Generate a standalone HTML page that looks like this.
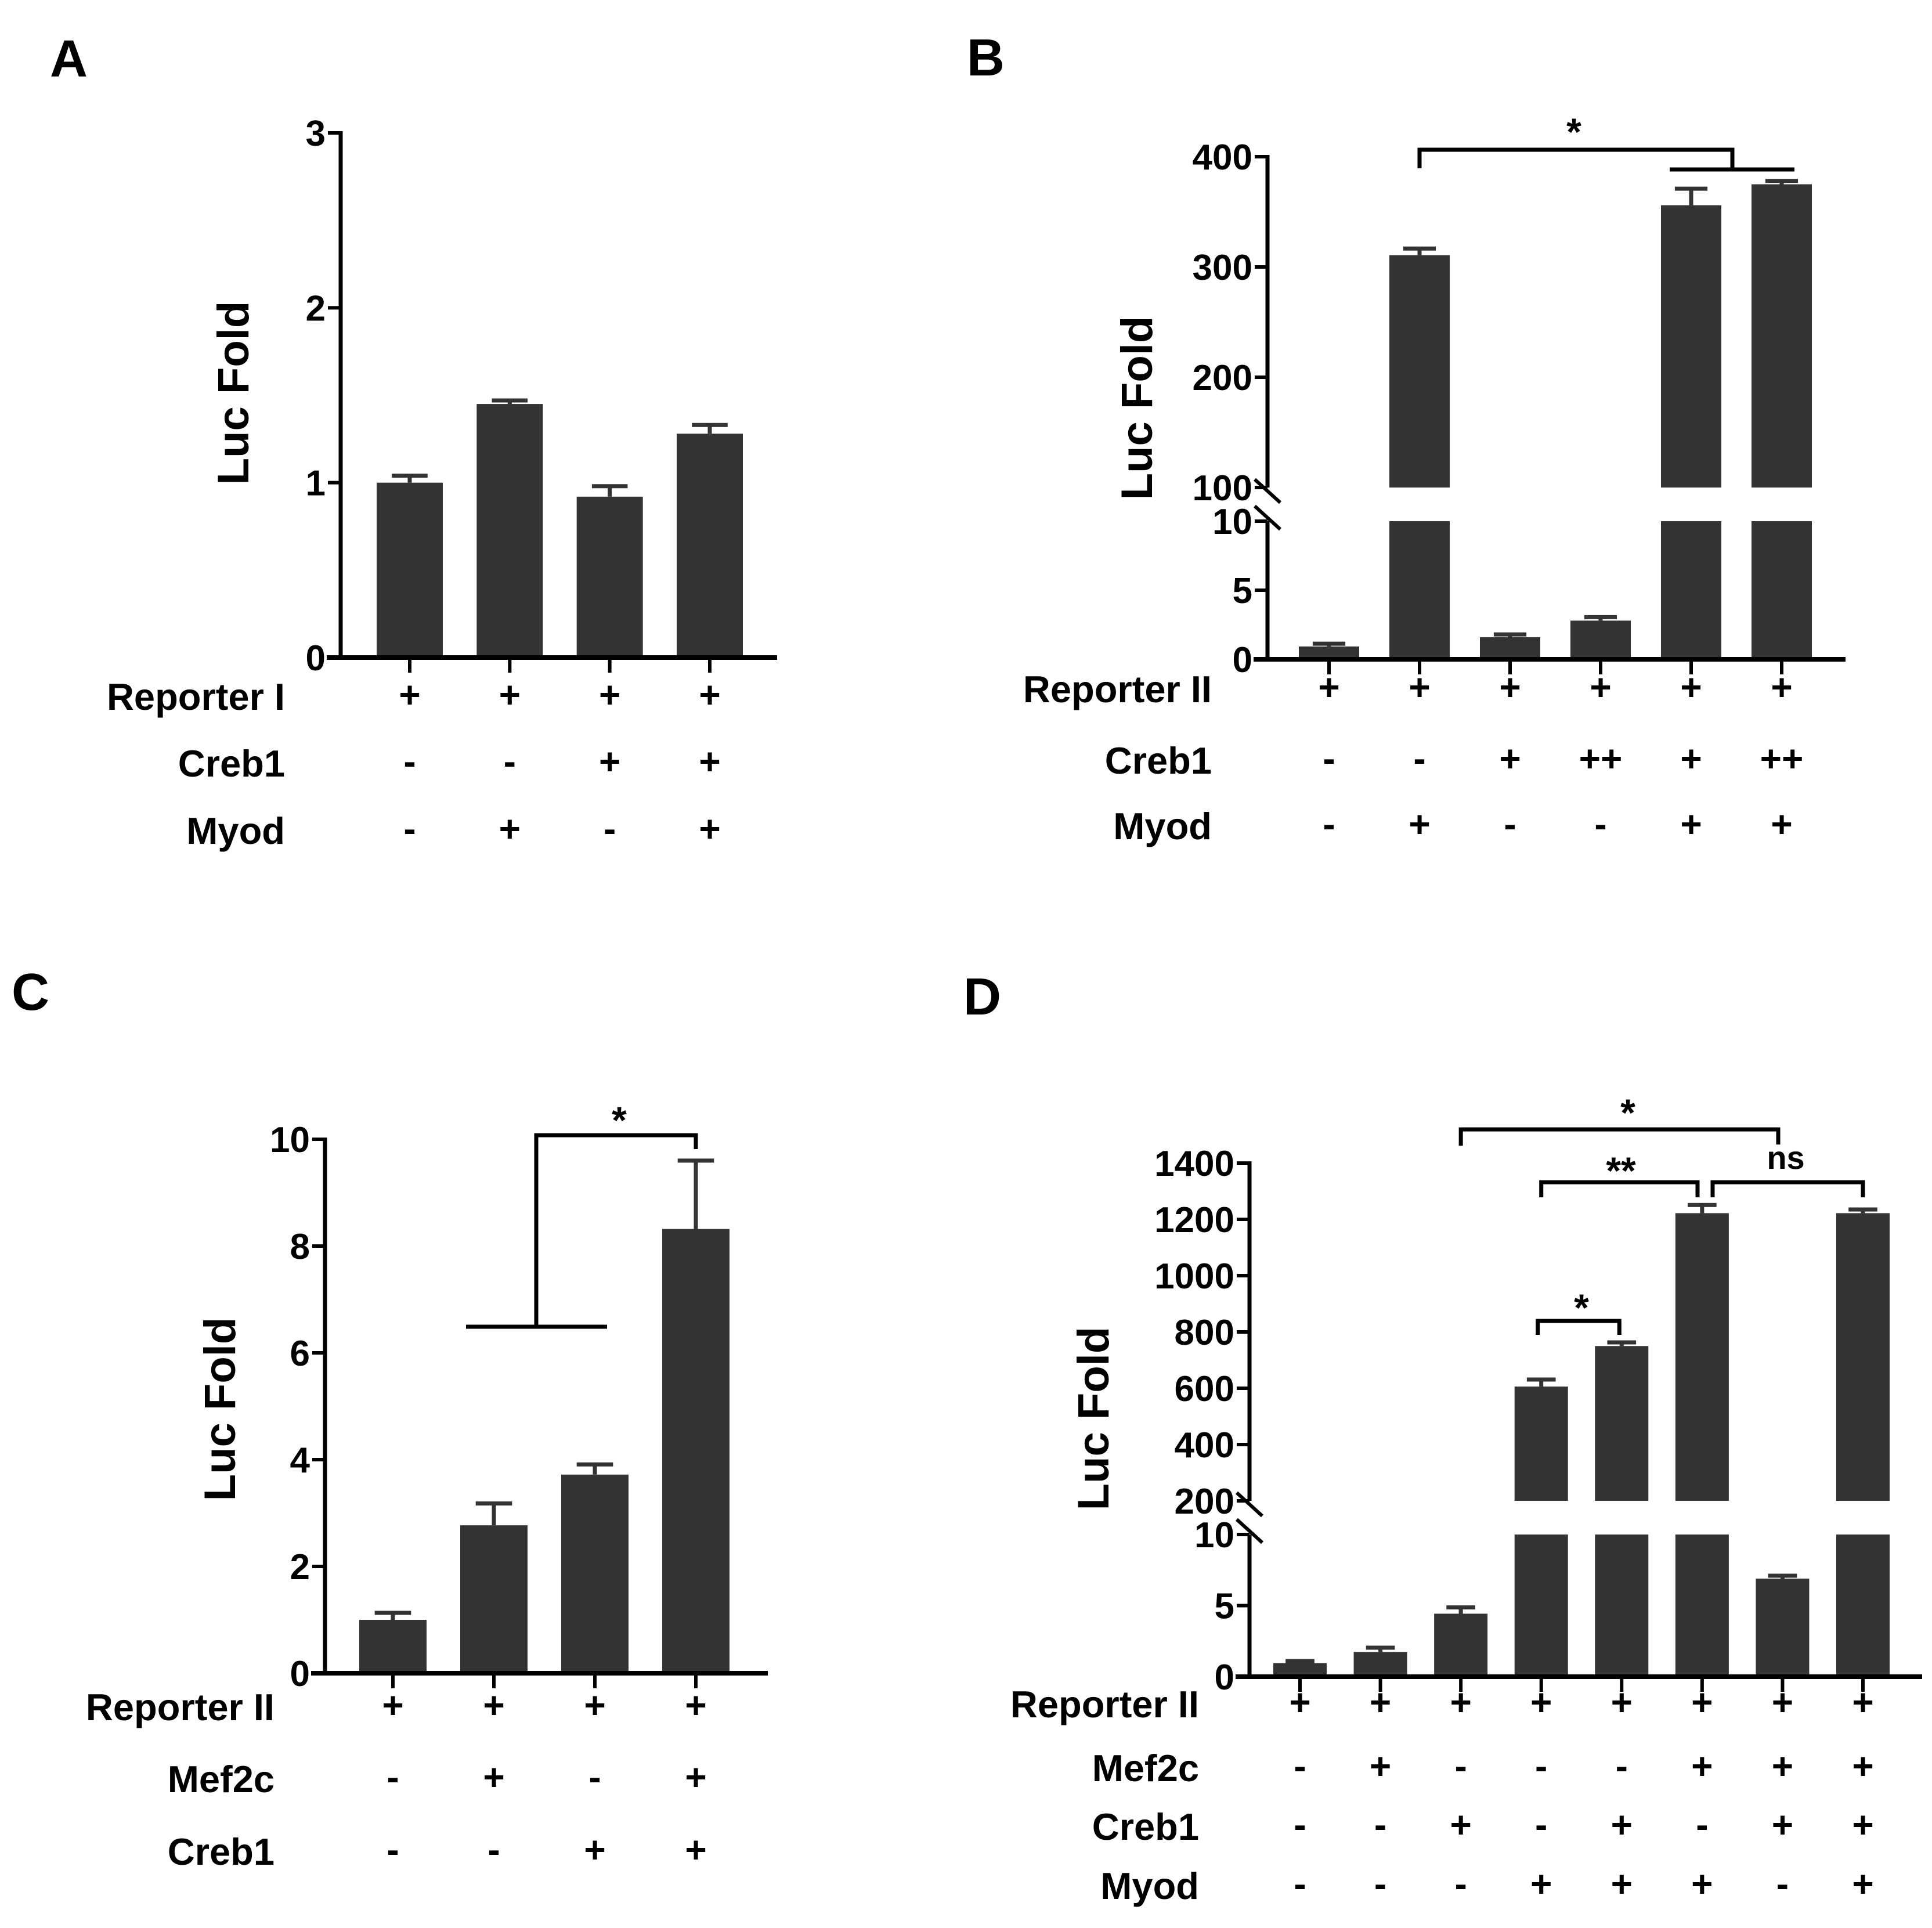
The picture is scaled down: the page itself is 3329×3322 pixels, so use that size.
<!DOCTYPE html>
<html><head><meta charset="utf-8"><style>
html,body{margin:0;padding:0;background:#fff;}
svg text{font-family:"Liberation Sans",Arial,sans-serif;font-weight:bold;fill:#000;}
</style></head><body>
<svg id="fig" xmlns="http://www.w3.org/2000/svg" width="3329" height="3317" viewBox="0 0 3329 3317">
<rect width="3329" height="3317" fill="#fff"/>
<text x="86" y="132" font-size="90">A</text>
<text x="1666" y="130" font-size="90">B</text>
<text x="20" y="1740" font-size="90">C</text>
<text x="1660" y="1748" font-size="90">D</text>
</svg>
<script>
// Panel A data
const aValues=[1.0,1.45,0.92,1.28];
const aErrors=[0.04,0.02,0.06,0.05];
const aTicks=[0,1,2,3];
const aRowNames=["Reporter I","Creb1","Myod"];
const aRows=[["+","+","+","+"],["-","-","+","+"],["-","+","-","+"]];
// Panel B data
const bValues=[0.93,310.7,1.6,2.8,356,375];
const bErrors=[0.2,6,0.2,0.25,15,3];
const bLowTicks=[0,5,10];
const bHighTicks=[100,200,300,400];
const bRowNames=["Reporter II","Creb1","Myod"];
const bRows=[["+","+","+","+","+","+"],["-","-","+","++","+","++"],["-","+","-","-","+","+"]];
// Panel C data
const cValues=[1.0,2.77,3.72,8.32];
const cErrors=[0.13,0.41,0.19,1.28];
const cTicks=[0,2,4,6,8,10];
const cRowNames=["Reporter II","Mef2c","Creb1"];
const cRows=[["+","+","+","+"],["-","+","-","+"],["-","-","+","+"]];
// Panel D data
const dValues=[0.96,1.74,4.43,606,750,1222,6.9,1222];
const dErrors=[0.14,0.3,0.44,25,13,29,0.2,13];
const dLowTicks=[0,5,10];
const dHighTicks=[200,400,600,800,1000,1200,1400];
const dRowNames=["Reporter II","Mef2c","Creb1","Myod"];
const dRows=[["+","+","+","+","+","+","+","+"],["-","+","-","-","-","+","+","+"],["-","-","+","-","+","-","+","+"],["-","-","-","+","+","+","-","+"]];

const svg=document.getElementById('fig');
const NS="http://www.w3.org/2000/svg";
function mk(tag,attrs,parent){const e=document.createElementNS(NS,tag);for(const k in attrs)e.setAttribute(k,attrs[k]);(parent||svg).appendChild(e);return e;}
function line(x1,y1,x2,y2,w,g,name){const l=mk('line',{x1,y1,x2,y2,stroke:'#000','stroke-width':w},g);


return l;}
function txt(s,x,y,size,anchor,g,name){const t=mk('text',{x,y,'font-size':size,'text-anchor':anchor},g);t.textContent=s;


return t;}

function panel(p){
  const g=mk('g',{});
  
  
  function yLow(v){return p.y0+(p.yLowTop-p.y0)*(v-p.lowMin)/(p.lowMax-p.lowMin);}
  function yHigh(v){return p.yHighBot+(p.yHighTop-p.yHighBot)*(v-p.highMin)/(p.highMax-p.highMin);}
  const broken=!!p.highTicks;
  function y(v){if(!broken||v<=p.lowMax)return yLow(v);return yHigh(Math.max(v,p.highMin));}
  const n=p.values.length;
  function xc(i){return p.xFirst+i*(p.xLast-p.xFirst)/(n-1);}
  for(let i=0;i<n;i++){
    const v=p.values[i],x=xc(i)-p.bw/2;
    if(broken&&v>p.lowMax){
      const r1=mk('rect',{x,y:yLow(p.lowMax),width:p.bw,height:p.y0-yLow(p.lowMax),fill:'#333'},g);
      
      
      const r2=mk('rect',{x,y:yHigh(v),width:p.bw,height:p.yHighBot-yHigh(v),fill:'#333'},g);
      
      
    }else{
      const r=mk('rect',{x,y:y(v),width:p.bw,height:p.y0-y(v),fill:'#333'},g);
      
      
    }
    const top=y(v),et=y(v+p.errors[i]);
    const eb=mk('path',{d:`M${xc(i)} ${top} V${et} M${xc(i)-p.bw*0.27} ${et} H${xc(i)+p.bw*0.27}`,stroke:'#333','stroke-width':7,fill:'none'},g);
    
    
  }
  const ax=p.axisX;
  if(broken){
    line(ax,p.y0+3,ax,p.yLowTop,7,g,'y-axis-lower');
    line(ax,p.yHighBot,ax,p.yHighTop-3,7,g,'y-axis-upper');
    line(ax-22,p.yHighBot-14,ax+22,p.yHighBot+26,6,g,'axis-break-mark');
    line(ax-22,p.yLowTop-26,ax+22,p.yLowTop+14,6,g,'axis-break-mark');
  }else line(ax,p.y0+3,ax,yLow(p.lowMax)-3,7,g,'y-axis');
  line(ax-24,p.y0,p.axisEnd,p.y0,8,g,'x-axis');
  const ticks=broken?p.lowTicks:p.ticks;
  ticks.forEach(t=>{const yy=yLow(t);line(ax-22,yy,ax,yy,6,g,'y-tick');txt(String(t),ax-26,yy+22,62,'end',g,'y-tick-label');});
  if(broken)p.highTicks.forEach(t=>{const yy=yHigh(t);line(ax-22,yy,ax,yy,6,g,'y-tick');txt(String(t),ax-26,yy+22,62,'end',g,'y-tick-label');});
  for(let i=0;i<n;i++)line(xc(i),p.y0,xc(i),p.y0+26,6,g,'x-tick');
  const t=txt('Luc Fold',0,0,76,'middle',g,'y-axis-title');
  t.setAttribute('transform',`translate(${p.titleX},${p.titleY}) rotate(-90)`);
  p.rowNames.forEach((nm,r)=>{
    txt(nm,p.rowRight,p.rowY[r],65,'end',g,'row-label-'+nm.toLowerCase().replace(/\s+/g,'-'));
    p.rows[r].forEach((s,i)=>txt(s,xc(i),p.rowY[r]-4,64,'middle',g,'row-sign'));
  });
  return {xc,y,g};
}

const A=panel({name:'panel-a',values:aValues,errors:aErrors,ticks:aTicks,lowMin:0,lowMax:3,
  y0:1133,yLowTop:229,axisX:587,axisEnd:1339,xFirst:706,xLast:1223,bw:114,
  titleX:428,titleY:677,rowNames:aRowNames,rows:aRows,rowRight:491,rowY:[1223,1338,1454]});

const B=panel({name:'panel-b',values:bValues,errors:bErrors,lowTicks:bLowTicks,highTicks:bHighTicks,
  lowMin:0,lowMax:10,highMin:100,highMax:400,y0:1136,yLowTop:898,yHighBot:840,yHighTop:270,
  axisX:2184,axisEnd:3180,xFirst:2290,xLast:3070,bw:104,
  titleX:1985,titleY:703,rowNames:bRowNames,rows:bRows,rowRight:2088,rowY:[1210,1333,1446]});

const C=panel({name:'panel-c',values:cValues,errors:cErrors,ticks:cTicks,lowMin:0,lowMax:10,
  y0:2883,yLowTop:1963,axisX:560,axisEnd:1323,xFirst:677,xLast:1199,bw:116,
  titleX:405,titleY:2428,rowNames:cRowNames,rows:cRows,rowRight:473,rowY:[2964,3088,3213]});

const D=panel({name:'panel-d',values:dValues,errors:dErrors,lowTicks:dLowTicks,highTicks:dHighTicks,
  lowMin:0,lowMax:10,highMin:200,highMax:1400,y0:2889,yLowTop:2644,yHighBot:2586,yHighTop:2004,
  axisX:2153,axisEnd:3312,xFirst:2240,xLast:3210,bw:92,
  titleX:1910,titleY:2444,rowNames:dRowNames,rows:dRows,rowRight:2066,rowY:[2959,3069,3170,3272]});

function path(d,name){const p=mk('path',{d,stroke:'#000','stroke-width':7,fill:'none'});

}
path(`M${B.xc(1)} 290 V258 H2985 V292`,'sig-bracket-b');
path(`M2877 292 H3092`,'sig-bracket-b-group');
txt('*',2712,250,66,'middle',svg,'sig-star-b');
path(`M803 2286 H1046 M924 2286 V1956 H${C.xc(3)} V1980`,'sig-bracket-c');
txt('*',1067,1953,66,'middle',svg,'sig-star-c');
path(`M${D.xc(2)} 1974 V1946 H3064 V1972`,'sig-bracket-d-top');
txt('*',2805,1940,66,'middle',svg,'sig-star-d-top');
path(`M${D.xc(3)} 2063 V2037 H2925 V2063`,'sig-bracket-d-double');
txt('**',2793,2040,66,'middle',svg,'sig-star-d-double');
path(`M2951 2063 V2037 H${D.xc(7)} V2063`,'sig-bracket-d-ns');
txt('ns',3077,2014,56,'middle',svg,'sig-ns-d');
path(`M${D.xc(3)-6} 2300 V2276 H${D.xc(4)-4} V2300`,'sig-bracket-d-small');
txt('*',2725,2276,66,'middle',svg,'sig-star-d-small');
</script>
</body></html>
